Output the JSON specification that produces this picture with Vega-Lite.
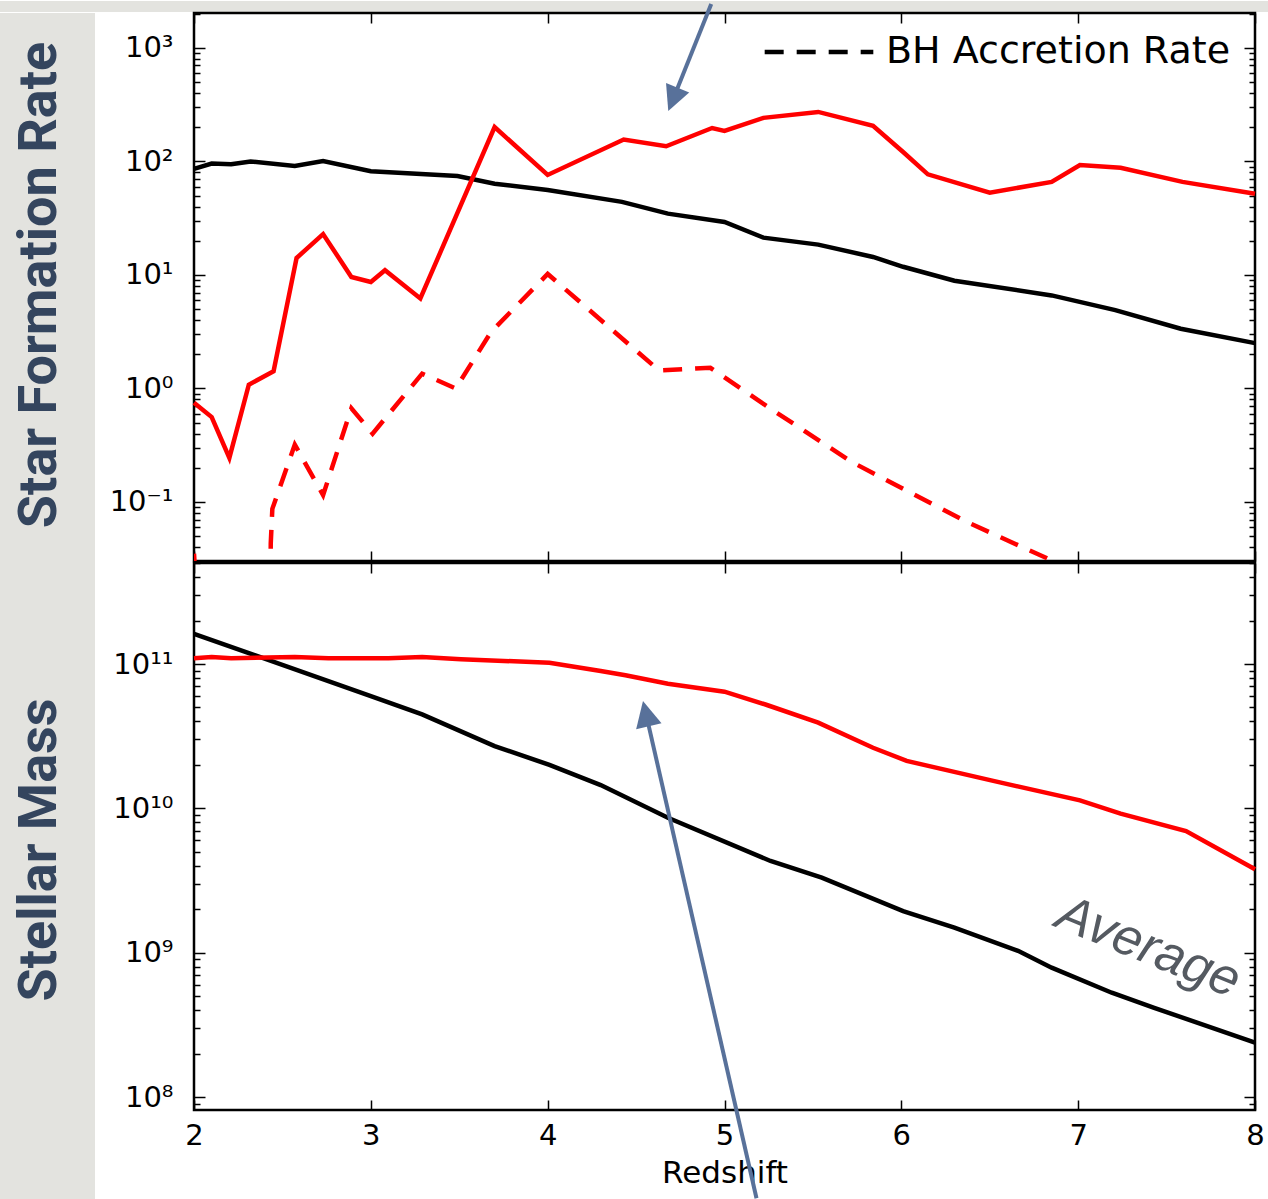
{
  "$schema": "https://vega.github.io/schema/vega-lite/v6.json",
  "padding": 0,
  "background": "white",
  "spacing": -12,
  "config": {
    "view": {"stroke": "#000", "strokeWidth": 2.5},
    "font": "DejaVu Sans",
    "axis": {
      "labelFont": "DejaVu Sans", "labelFontSize": 29, "labelColor": "#000",
      "tickColor": "#000", "tickWidth": 1.5, "domain": false, "grid": false,
      "titleFont": "DejaVu Sans", "titleFontSize": 31, "titleFontWeight": "normal", "titleColor": "#000",
      "labelFlush": false, "labelOverlap": false
    }
  },
  "datasets": {
    "sfr_avg": [
      {"z": 2.00, "v": 86}, {"z": 2.10, "v": 95.7}, {"z": 2.21, "v": 94.4}, {"z": 2.32, "v": 100}, {"z": 2.57, "v": 91},
      {"z": 2.73, "v": 101}, {"z": 3.00, "v": 82}, {"z": 3.49, "v": 74.5}, {"z": 3.70, "v": 63.7}, {"z": 4.00, "v": 56},
      {"z": 4.42, "v": 44}, {"z": 4.68, "v": 34.7}, {"z": 5.00, "v": 29.3}, {"z": 5.22, "v": 21.3}, {"z": 5.53, "v": 18.5},
      {"z": 5.84, "v": 14.4}, {"z": 6.01, "v": 11.8}, {"z": 6.30, "v": 8.9}, {"z": 6.85, "v": 6.6}, {"z": 7.21, "v": 4.9},
      {"z": 7.58, "v": 3.36}, {"z": 8.00, "v": 2.51}
    ],
    "sfr_red": [
      {"z": 2.00, "v": 0.75}, {"z": 2.10, "v": 0.56}, {"z": 2.20, "v": 0.245}, {"z": 2.31, "v": 1.08}, {"z": 2.45, "v": 1.42},
      {"z": 2.58, "v": 14.1}, {"z": 2.73, "v": 22.9}, {"z": 2.89, "v": 9.6}, {"z": 3.00, "v": 8.67}, {"z": 3.08, "v": 11},
      {"z": 3.28, "v": 6.2}, {"z": 3.70, "v": 201}, {"z": 4.00, "v": 76}, {"z": 4.43, "v": 156}, {"z": 4.67, "v": 136},
      {"z": 4.93, "v": 197}, {"z": 5.00, "v": 186}, {"z": 5.22, "v": 242}, {"z": 5.53, "v": 273}, {"z": 5.84, "v": 206},
      {"z": 6.01, "v": 121}, {"z": 6.15, "v": 77}, {"z": 6.50, "v": 53}, {"z": 6.85, "v": 66}, {"z": 7.01, "v": 93},
      {"z": 7.24, "v": 88}, {"z": 7.59, "v": 66}, {"z": 8.00, "v": 52}
    ],
    "bh_red": [
      {"z": 2.00, "v": 0.035, "series": "BH Accretion Rate"}, {"z": 2.04, "v": 0.004, "series": "BH Accretion Rate"},
      {"z": 2.43, "v": 0.004, "series": "BH Accretion Rate"}, {"z": 2.434, "v": 0.043, "series": "BH Accretion Rate"},
      {"z": 2.443, "v": 0.087, "series": "BH Accretion Rate"}, {"z": 2.57, "v": 0.32, "series": "BH Accretion Rate"},
      {"z": 2.73, "v": 0.115, "series": "BH Accretion Rate"}, {"z": 2.89, "v": 0.67, "series": "BH Accretion Rate"},
      {"z": 3.01, "v": 0.40, "series": "BH Accretion Rate"}, {"z": 3.29, "v": 1.35, "series": "BH Accretion Rate"},
      {"z": 3.48, "v": 1.0, "series": "BH Accretion Rate"}, {"z": 3.68, "v": 3.15, "series": "BH Accretion Rate"},
      {"z": 4.00, "v": 10.2, "series": "BH Accretion Rate"}, {"z": 4.63, "v": 1.44, "series": "BH Accretion Rate"},
      {"z": 4.92, "v": 1.52, "series": "BH Accretion Rate"}, {"z": 5.26, "v": 0.664, "series": "BH Accretion Rate"},
      {"z": 5.72, "v": 0.225, "series": "BH Accretion Rate"}, {"z": 6.37, "v": 0.0667, "series": "BH Accretion Rate"},
      {"z": 6.85, "v": 0.0306, "series": "BH Accretion Rate"}, {"z": 7.20, "v": 0.015, "series": "BH Accretion Rate"}
    ],
    "mass_avg": [
      {"z": 2.00, "v": 1.62e11}, {"z": 3.00, "v": 6.0e10}, {"z": 3.29, "v": 4.48e10}, {"z": 3.70, "v": 2.7e10},
      {"z": 4.01, "v": 2.0e10}, {"z": 4.30, "v": 1.45e10}, {"z": 4.68, "v": 8.6e9}, {"z": 5.26, "v": 4.32e9},
      {"z": 5.55, "v": 3.31e9}, {"z": 6.01, "v": 1.94e9}, {"z": 6.30, "v": 1.49e9}, {"z": 6.66, "v": 1.03e9},
      {"z": 6.85, "v": 7.87e8}, {"z": 7.19, "v": 5.28e8}, {"z": 7.43, "v": 4.15e8}, {"z": 8.00, "v": 2.38e8}
    ],
    "mass_red": [
      {"z": 2.00, "v": 1.095e11}, {"z": 2.10, "v": 1.12e11}, {"z": 2.21, "v": 1.095e11}, {"z": 2.57, "v": 1.12e11},
      {"z": 2.76, "v": 1.095e11}, {"z": 3.10, "v": 1.095e11}, {"z": 3.29, "v": 1.12e11}, {"z": 3.51, "v": 1.08e11},
      {"z": 4.01, "v": 1.02e11}, {"z": 4.30, "v": 8.94e10}, {"z": 4.44, "v": 8.35e10}, {"z": 4.68, "v": 7.3e10},
      {"z": 5.00, "v": 6.43e10}, {"z": 5.24, "v": 5.2e10}, {"z": 5.53, "v": 3.92e10}, {"z": 5.84, "v": 2.63e10},
      {"z": 6.03, "v": 2.13e10}, {"z": 6.52, "v": 1.55e10}, {"z": 7.01, "v": 1.135e10}, {"z": 7.24, "v": 9.18e9},
      {"z": 7.61, "v": 6.96e9}, {"z": 8.00, "v": 3.78e9}
    ],
    "arrow_top": [{"z": 4.925, "v": 2438, "z2": 4.729, "v2": 422}],
    "arrow_top_head": [{"z": 4.682, "v": 278.6}],
    "arrow_bottom": [{"z": 5.181, "v": 1.99e7, "z2": 4.567, "v2": 3.94e10}],
    "arrow_bottom_head": [{"z": 4.539, "v": 5.55e10}],
    "avg_label": [{"z": 7.364, "v": 8.61e8, "label": "Average"}]
  },
  "vconcat": [
    {
      "width": 1268, "height": 11,
      "view": {"fill": "#e3e3df", "stroke": null},
      "data": {"values": [{"label": ""}]},
      "mark": {"type": "text", "fontSize": 0},
      "encoding": {"text": {"field": "label"}}
    },
    {
      "spacing": 0,
      "hconcat": [
        {
          "spacing": 0,
          "vconcat": [
            {
              "width": 95, "height": 544,
              "view": {"fill": "#e3e3df", "stroke": null},
              "data": {"values": [{"label": "Star Formation Rate"}]},
              "mark": {"type": "text", "angle": 270, "font": "Roboto", "fontWeight": "bold", "fontSize": 54, "color": "#34455e", "align": "center", "baseline": "middle", "dy": -8},
              "encoding": {"text": {"field": "label"}}
            },
            {
              "width": 95, "height": 586,
              "view": {"fill": "#e3e3df", "stroke": null},
              "data": {"values": [{"label": "Stellar Mass"}]},
              "mark": {"type": "text", "angle": 270, "font": "Roboto", "fontWeight": "bold", "fontSize": 54, "color": "#34455e", "align": "center", "baseline": "middle", "dy": -8},
              "encoding": {"text": {"field": "label"}}
            },
            {
              "width": 95, "height": 60,
              "view": {"fill": "#e3e3df", "stroke": null},
              "data": {"values": [{"label": ""}]},
              "mark": {"type": "text", "fontSize": 0},
              "encoding": {"text": {"field": "label"}}
            }
          ]
        },
        {
          "spacing": -2,
          "vconcat": [
            {
              "width": 1061, "height": 548,
              "resolve": {"axis": {"x": "independent", "y": "independent"}},
              "layer": [
                {
                  "data": {"name": "sfr_avg"},
                  "mark": {"type": "line", "color": "#000", "strokeWidth": 4.5},
                  "encoding": {
                    "x": {"field": "z", "type": "quantitative", "scale": {"domain": [2, 8], "nice": false, "zero": false},
                      "axis": {"orient": "bottom", "values": [2, 3, 4, 5, 6, 7, 8], "labels": false, "title": null, "tickSize": -10, "minExtent": 0, "maxExtent": 0}},
                    "y": {"field": "v", "type": "quantitative", "scale": {"type": "log", "domain": [0.0302, 2030], "nice": false},
                      "axis": {"orient": "left", "title": null, "tickSize": -11, "labelPadding": 32, "minExtent": 97, "maxExtent": 97,
                        "values": [0.04, 0.05, 0.06, 0.07, 0.08, 0.09, 0.1, 0.2, 0.3, 0.4, 0.5, 0.6, 0.7, 0.8, 0.9, 1, 2, 3, 4, 5, 6, 7, 8, 9, 10, 20, 30, 40, 50, 60, 70, 80, 90, 100, 200, 300, 400, 500, 600, 700, 800, 900, 1000, 2000],
                        "labelExpr": "datum.value == 1000 ? '10³' : datum.value == 100 ? '10²' : datum.value == 10 ? '10¹' : datum.value == 1 ? '10⁰' : datum.value == 0.1 ? '10⁻¹' : ''",
                        "labelFontSize": {"condition": {"test": "abs(log(datum.value)/LN10 - round(log(datum.value)/LN10)) < 0.001", "value": 29}, "value": 0},
                        "tickDash": {"condition": {"test": "abs(log(datum.value)/LN10 - round(log(datum.value)/LN10)) < 0.001", "value": [20, 0]}, "value": [6, 40]}}}
                  }
                },
                {
                  "data": {"name": "sfr_red"},
                  "mark": {"type": "line", "color": "#ff0000", "strokeWidth": 4.5},
                  "encoding": {
                    "x": {"field": "z", "type": "quantitative", "scale": {"domain": [2, 8], "nice": false, "zero": false},
                      "axis": {"orient": "top", "values": [2, 3, 4, 5, 6, 7, 8], "labels": false, "title": null, "tickSize": -10, "minExtent": 0, "maxExtent": 0}},
                    "y": {"field": "v", "type": "quantitative", "scale": {"type": "log", "domain": [0.0302, 2030], "nice": false},
                      "axis": {"orient": "right", "title": null, "labels": false, "tickSize": -11, "minExtent": 0, "maxExtent": 0,
                        "values": [0.04, 0.05, 0.06, 0.07, 0.08, 0.09, 0.1, 0.2, 0.3, 0.4, 0.5, 0.6, 0.7, 0.8, 0.9, 1, 2, 3, 4, 5, 6, 7, 8, 9, 10, 20, 30, 40, 50, 60, 70, 80, 90, 100, 200, 300, 400, 500, 600, 700, 800, 900, 1000, 2000],
                        "tickDash": {"condition": {"test": "abs(log(datum.value)/LN10 - round(log(datum.value)/LN10)) < 0.001", "value": [20, 0]}, "value": [6, 40]}}}
                  }
                },
                {
                  "data": {"name": "bh_red"},
                  "mark": {"type": "line", "color": "#ff0000", "strokeWidth": 4.5, "clip": true},
                  "encoding": {
                    "x": {"field": "z", "type": "quantitative", "axis": null},
                    "y": {"field": "v", "type": "quantitative", "axis": null},
                    "strokeDash": {"field": "series", "type": "nominal", "scale": {"domain": ["BH Accretion Rate"], "range": [[19, 13]]},
                      "legend": {"title": null, "orient": "none", "legendX": 800, "legendY": 32, "padding": 0,
                        "symbolType": "M-10,0L10,0", "symbolSize": 118, "symbolStrokeWidth": 4.5, "symbolStrokeColor": "#000",
                        "labelFont": "DejaVu Sans", "labelFontSize": 38, "labelColor": "#000", "labelOffset": 48, "labelLimit": 1000,
                        "encode": {"symbols": {"update": {"stroke": {"value": "#000"}, "strokeWidth": {"value": 4.5}}}}}}
                  }
                },
                {
                  "data": {"name": "arrow_top"},
                  "mark": {"type": "rule", "color": "#58719a", "strokeWidth": 4},
                  "encoding": {
                    "x": {"field": "z", "type": "quantitative", "axis": null},
                    "y": {"field": "v", "type": "quantitative", "axis": null},
                    "x2": {"field": "z2"},
                    "y2": {"field": "v2"}
                  }
                },
                {
                  "data": {"name": "arrow_top_head"},
                  "mark": {"type": "point", "shape": "M0,0L1,2L-1,2Z", "size": 625, "angle": 202, "filled": true, "color": "#58719a", "opacity": 1, "strokeWidth": 0},
                  "encoding": {
                    "x": {"field": "z", "type": "quantitative", "axis": null},
                    "y": {"field": "v", "type": "quantitative", "axis": null}
                  }
                }
              ]
            },
            {
              "width": 1061, "height": 547,
              "resolve": {"axis": {"x": "independent", "y": "independent"}},
              "layer": [
                {
                  "data": {"name": "mass_avg"},
                  "mark": {"type": "line", "color": "#000", "strokeWidth": 4.5},
                  "encoding": {
                    "x": {"field": "z", "type": "quantitative", "scale": {"domain": [2, 8], "nice": false, "zero": false},
                      "axis": {"orient": "bottom", "values": [2, 3, 4, 5, 6, 7, 8], "format": "d", "title": "Redshift", "titlePadding": 8, "tickSize": -10, "labelPadding": 21}},
                    "y": {"field": "v", "type": "quantitative", "scale": {"type": "log", "domain": [8.13e7, 5.01e11], "nice": false},
                      "axis": {"orient": "left", "title": null, "tickSize": -11, "labelPadding": 32, "minExtent": 97, "maxExtent": 97,
                        "values": [9e7, 1e8, 2e8, 3e8, 4e8, 5e8, 6e8, 7e8, 8e8, 9e8, 1e9, 2e9, 3e9, 4e9, 5e9, 6e9, 7e9, 8e9, 9e9, 1e10, 2e10, 3e10, 4e10, 5e10, 6e10, 7e10, 8e10, 9e10, 1e11, 2e11, 3e11, 4e11, 5e11],
                        "labelExpr": "datum.value == 100000000000 ? '10¹¹' : datum.value == 10000000000 ? '10¹⁰' : datum.value == 1000000000 ? '10⁹' : datum.value == 100000000 ? '10⁸' : ''",
                        "labelFontSize": {"condition": {"test": "abs(log(datum.value)/LN10 - round(log(datum.value)/LN10)) < 0.001", "value": 29}, "value": 0},
                        "tickDash": {"condition": {"test": "abs(log(datum.value)/LN10 - round(log(datum.value)/LN10)) < 0.001", "value": [20, 0]}, "value": [6, 40]}}}
                  }
                },
                {
                  "data": {"name": "mass_red"},
                  "mark": {"type": "line", "color": "#ff0000", "strokeWidth": 4.5},
                  "encoding": {
                    "x": {"field": "z", "type": "quantitative", "scale": {"domain": [2, 8], "nice": false, "zero": false},
                      "axis": {"orient": "top", "values": [2, 3, 4, 5, 6, 7, 8], "labels": false, "title": null, "tickSize": -10, "minExtent": 0, "maxExtent": 0}},
                    "y": {"field": "v", "type": "quantitative", "scale": {"type": "log", "domain": [8.13e7, 5.01e11], "nice": false},
                      "axis": {"orient": "right", "title": null, "labels": false, "tickSize": -11, "minExtent": 0, "maxExtent": 0,
                        "values": [9e7, 1e8, 2e8, 3e8, 4e8, 5e8, 6e8, 7e8, 8e8, 9e8, 1e9, 2e9, 3e9, 4e9, 5e9, 6e9, 7e9, 8e9, 9e9, 1e10, 2e10, 3e10, 4e10, 5e10, 6e10, 7e10, 8e10, 9e10, 1e11, 2e11, 3e11, 4e11, 5e11],
                        "tickDash": {"condition": {"test": "abs(log(datum.value)/LN10 - round(log(datum.value)/LN10)) < 0.001", "value": [20, 0]}, "value": [6, 40]}}}
                  }
                },
                {
                  "data": {"name": "avg_label"},
                  "mark": {"type": "text", "font": "Liberation Sans", "fontStyle": "italic", "fontSize": 52, "color": "#555a61", "angle": 22, "align": "center", "baseline": "alphabetic"},
                  "encoding": {
                    "x": {"field": "z", "type": "quantitative", "axis": null},
                    "y": {"field": "v", "type": "quantitative", "axis": null},
                    "text": {"field": "label"}
                  }
                },
                {
                  "data": {"name": "arrow_bottom"},
                  "mark": {"type": "rule", "color": "#58719a", "strokeWidth": 4},
                  "encoding": {
                    "x": {"field": "z", "type": "quantitative", "axis": null},
                    "y": {"field": "v", "type": "quantitative", "axis": null},
                    "x2": {"field": "z2"},
                    "y2": {"field": "v2"}
                  }
                },
                {
                  "data": {"name": "arrow_bottom_head"},
                  "mark": {"type": "point", "shape": "M0,0L1,2L-1,2Z", "size": 676, "angle": 347, "filled": true, "color": "#58719a", "opacity": 1, "strokeWidth": 0},
                  "encoding": {
                    "x": {"field": "z", "type": "quantitative", "axis": null},
                    "y": {"field": "v", "type": "quantitative", "axis": null}
                  }
                }
              ]
            }
          ]
        }
      ]
    }
  ]
}
